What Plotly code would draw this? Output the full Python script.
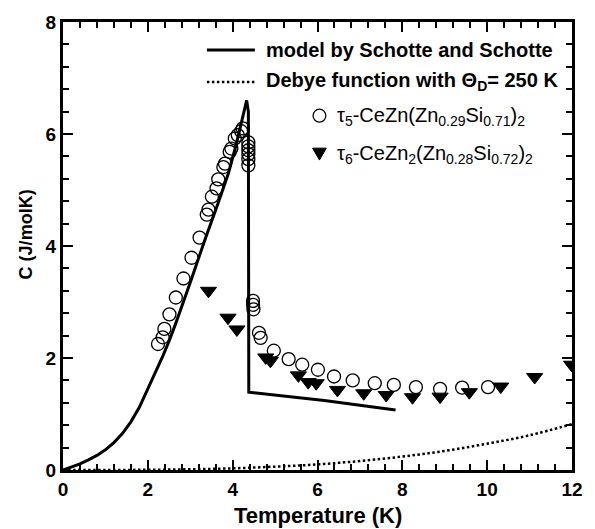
import plotly.graph_objects as go

# ---- data ----
model_T = [0, 0.2, 0.4, 0.6, 0.8, 1.0, 1.2, 1.4, 1.6, 1.8, 2.0, 2.2, 2.35, 2.5, 2.65, 3.0, 3.2, 3.35,
           3.65, 3.9, 4.08, 4.24, 4.33, 4.37, 4.38, 6.16, 7.84]
model_C = [0, 0.05, 0.11, 0.18, 0.26, 0.36, 0.49, 0.65, 0.86, 1.12, 1.45, 1.77, 2.03, 2.3, 2.6, 3.35, 3.8, 4.12,
           4.75, 5.3, 5.8, 6.3, 6.6, 6.4, 1.39, 1.24, 1.07]

debye_T = [0, 1, 2, 3, 4, 5, 6, 7, 8, 9, 10, 11, 12]
debye_C = [0, 0.0005, 0.004, 0.013, 0.03, 0.06, 0.1, 0.16, 0.24, 0.34, 0.47, 0.62, 0.82]

tau5_T = [2.24, 2.35, 2.39, 2.51, 2.66, 2.84, 3.03, 3.22, 3.39, 3.43, 3.51, 3.62, 3.66, 3.78, 3.82,
          3.93, 3.97, 4.05, 4.12, 4.20, 4.24, 4.37, 4.37, 4.37, 4.37, 4.37, 4.37, 4.48, 4.48, 4.49,
          4.62, 4.66, 4.97, 5.32, 5.64, 6.01, 6.39, 6.83, 7.35, 7.80, 8.32, 8.89, 9.41, 10.02]
tau5_C = [2.25, 2.37, 2.52, 2.78, 3.08, 3.42, 3.79, 4.15, 4.56, 4.65, 4.88, 5.03, 5.19, 5.41, 5.47,
          5.68, 5.74, 5.92, 5.98, 6.05, 6.10, 5.85, 5.78, 5.71, 5.64, 5.55, 5.44, 3.02, 2.95, 2.87,
          2.45, 2.36, 2.13, 1.98, 1.88, 1.79, 1.67, 1.60, 1.55, 1.52, 1.48, 1.45, 1.47, 1.48]

tau6_T = [3.43, 3.89, 4.10, 4.78, 4.89, 5.55, 5.78, 5.97, 6.47, 7.09, 7.62, 8.24, 8.89, 9.58, 10.32, 11.12, 11.99]
tau6_C = [3.20, 2.72, 2.51, 2.01, 1.95, 1.69, 1.57, 1.55, 1.43, 1.37, 1.34, 1.30, 1.31, 1.39, 1.49, 1.66, 1.88]

legend_labels = [
    "model by Schotte and Schotte",
    "Debye function with \u0398<sub>D</sub>= 250 K",
    "\u03c4<sub>5</sub>-CeZn(Zn<sub>0.29</sub>Si<sub>0.71</sub>)<sub>2</sub>",
    "\u03c4<sub>6</sub>-CeZn<sub>2</sub>(Zn<sub>0.28</sub>Si<sub>0.72</sub>)<sub>2</sub>",
]

FONT = "Liberation Sans, Arial, sans-serif"
W, H = 595, 529
L, R, T, B = 63, 583, 19, 470  # plot area in px


def px(x):
    return (x - L) / (R - L)


def py(y):
    return (B - y) / (B - T)


fig = go.Figure()
fig.add_trace(go.Scatter(x=debye_T, y=debye_C, mode="lines", line=dict(color="black", width=2.5, dash="2.5px,2.5px"),
                         line_shape="spline", showlegend=False))
fig.add_trace(go.Scatter(x=model_T, y=model_C, mode="lines", line=dict(color="black", width=3), showlegend=False))
fig.add_trace(go.Scatter(x=tau5_T, y=tau5_C, mode="markers",
                         marker=dict(symbol="circle-open", size=13, color="black", line=dict(width=1.3)),
                         showlegend=False))
fig.add_trace(go.Scatter(x=tau6_T, y=tau6_C, mode="markers",
                         marker=dict(symbol="triangle-down", size=14, color="black", line=dict(width=1, color="black")),
                         showlegend=False))

# legend drawn manually
shapes = [
    dict(type="line", xref="paper", yref="paper", x0=px(210), x1=px(259), y0=py(47.3), y1=py(47.3),
         line=dict(color="black", width=3)),
    dict(type="line", xref="paper", yref="paper", x0=px(210), x1=px(259), y0=py(79.3), y1=py(79.3),
         line=dict(color="black", width=2.5, dash="2.5px,2.5px")),
    dict(type="circle", xref="paper", yref="paper", x0=px(318.5), x1=px(331.5), y0=py(119.8), y1=py(106.8),
         line=dict(color="black", width=1.3)),
    dict(type="path", xref="paper", yref="paper",
         path=f"M {px(318)} {py(146)} L {px(332)} {py(146)} L {px(325)} {py(158)} Z",
         fillcolor="black", line=dict(color="black", width=1)),
]

annotations = [
    dict(text="<b>" + legend_labels[0] + "</b>", x=px(268), y=py(47.3), xanchor="left", yanchor="middle"),
    dict(text="<b>" + legend_labels[1] + "</b>", x=px(268), y=py(79.3), xanchor="left", yanchor="middle"),
    dict(text=legend_labels[2], x=px(341), y=py(114), xanchor="left", yanchor="middle"),
    dict(text=legend_labels[3], x=px(341), y=py(152.5), xanchor="left", yanchor="middle"),
]
for a in annotations:
    a.update(xref="paper", yref="paper", showarrow=False, font=dict(family=FONT, size=20, color="black"))

annotations.append(dict(text="<b>Temperature (K)</b>", x=px(323.4), y=py(516), xref="paper", yref="paper",
                        xanchor="center", yanchor="middle", showarrow=False,
                        font=dict(family=FONT, size=22, color="black")))
annotations.append(dict(text="<b>C (J/molK)</b>", x=px(25), y=py(233), xref="paper", yref="paper",
                        xanchor="center", yanchor="middle", showarrow=False, textangle=-90,
                        font=dict(family=FONT, size=18, color="black")))

axis_common = dict(
    showgrid=False, zeroline=False, showline=True, linecolor="black", linewidth=3,
    mirror="allticks", ticks="inside", ticklen=10, tickwidth=2, tickcolor="black",
    dtick=2, tick0=0,
    tickfont=dict(family=FONT, size=19, color="black"),
    minor=dict(ticks="inside", ticklen=6, tickwidth=1.5, tickcolor="black", dtick=0.4, tick0=0),
)

fig.update_layout(
    width=W, height=H,
    margin=dict(l=L, r=W - R, t=T, b=H - B),
    paper_bgcolor="white", plot_bgcolor="white",
    xaxis=dict(range=[0, 12], tickprefix="<b>", ticksuffix="</b>", **axis_common),
    yaxis=dict(range=[0, 8], tickprefix="<b>", ticksuffix="</b>", **axis_common),
    shapes=shapes, annotations=annotations,
    showlegend=False,
)

fig.write_html("out.html")
